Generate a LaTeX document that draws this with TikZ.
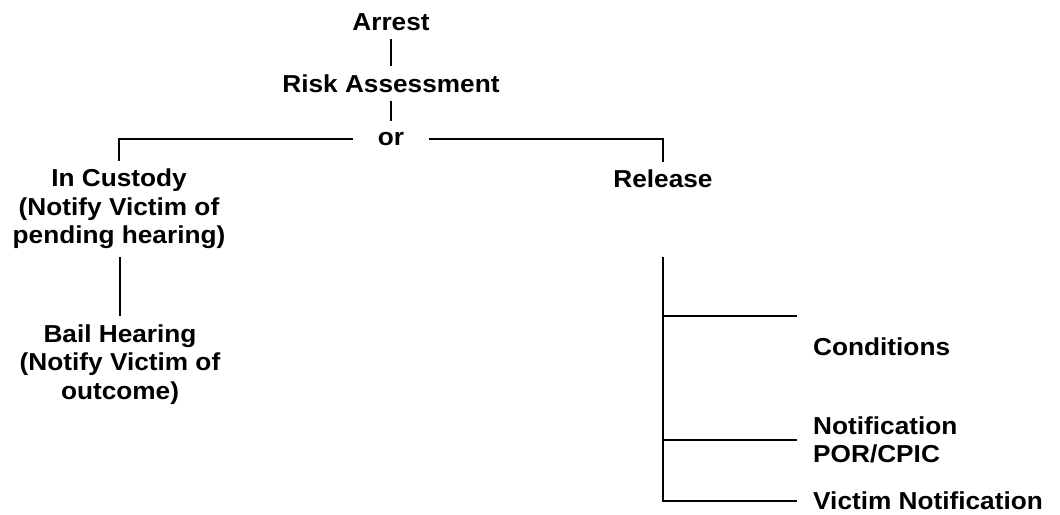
\documentclass[tikz,border=0pt]{standalone}
\usepackage{fontspec}
\setmainfont{Liberation Sans}[FakeStretch=1.07]
\begin{document}
\begin{tikzpicture}[x=1pt,y=-1pt,
  lbl/.style={font=\fontsize{24.5}{28.5}\selectfont\bfseries, inner xsep=16pt, inner ysep=8pt},
  conn/.style={draw=black, line width=2pt}]
\useasboundingbox (0,0) rectangle (1060,514);
% nodes (multi-line nodes are anchored at the baseline of their last line)
\node[lbl, anchor=base] (arrest) at (391,30.7) {Arrest};
\node[lbl, anchor=base] (risk) at (391,92.3) {Risk Assessment};
\node[lbl, anchor=base, inner xsep=25pt, inner ysep=11pt] (or) at (391,145) {or};
\node[lbl, anchor=base, align=center] (custody) at (119,243.7) {In Custody\\(Notify Victim of\\pending hearing)};
\node[lbl, anchor=base, align=center] (bail) at (120,399) {Bail Hearing\\(Notify Victim of\\outcome)};
\node[lbl, anchor=base] (release) at (663,187.6) {Release};
\node[lbl, anchor=base west, inner xsep=0pt] (cond) at (813,355) {Conditions};
\node[lbl, anchor=base west, align=left] (notif) at (797,462.5) {Notification\\POR/CPIC};
\node[lbl, anchor=base west, inner ysep=2pt] (victim) at (797,509.5) {Victim Notification};
% junction coordinates
\coordinate (rvtop) at (663,257);
\coordinate (condend) at (797,316);
% connectors
\draw[conn] (arrest.south) -- (arrest.south |- risk.north);
\draw[conn] (arrest.south |- risk.south) -- (arrest.south |- or.north);
\draw[conn] (or.west) -| (custody.north);
\draw[conn] (or.east) -| (release.north);
\draw[conn] (custody.south -| bail.north) -- (bail.north);
\draw[conn] (rvtop) -- (rvtop |- victim.west) -- (victim.west);
\draw[conn] (rvtop |- condend) -- (condend);
\draw[conn] (rvtop |- notif.west) -- (notif.west);
\end{tikzpicture}
\end{document}
